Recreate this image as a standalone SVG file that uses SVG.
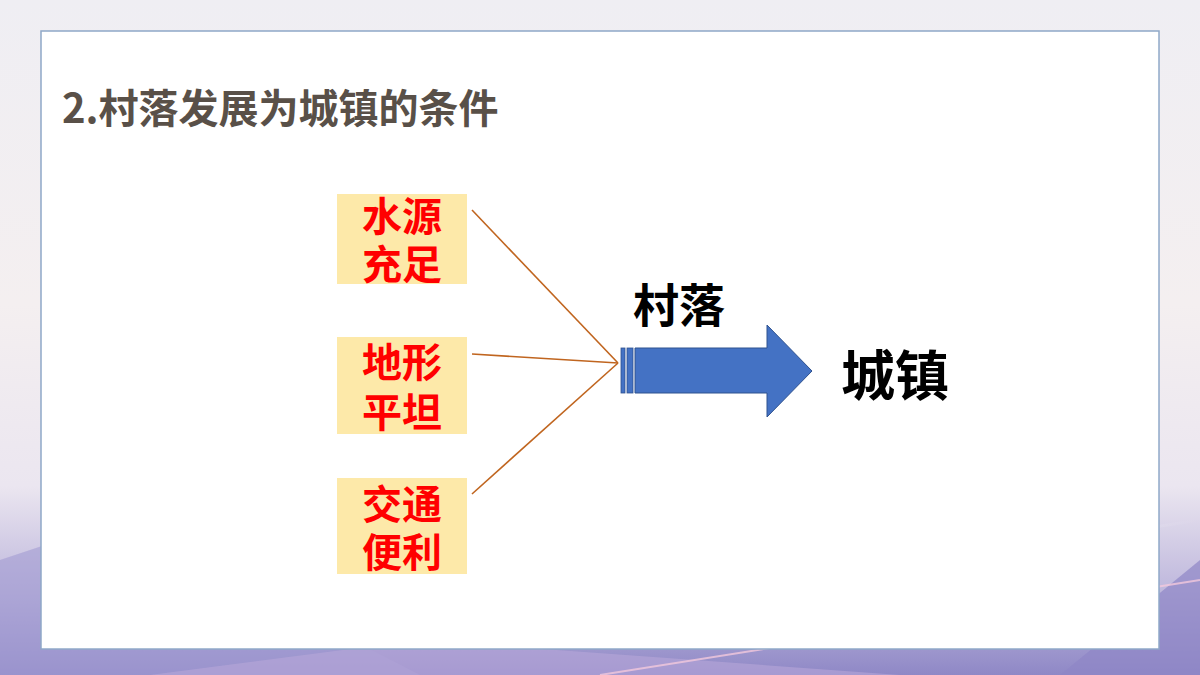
<svg xmlns="http://www.w3.org/2000/svg" width="1200" height="675" viewBox="0 0 1200 675">
<defs>
<linearGradient id="bg" x1="0" y1="0" x2="0" y2="1">
<stop offset="0" stop-color="#efeef3"/>
<stop offset="0.45" stop-color="#f4eff0"/>
<stop offset="0.72" stop-color="#ebe6f0"/>
<stop offset="0.88" stop-color="#bdb6dc"/>
<stop offset="1" stop-color="#8f88c6"/>
</linearGradient>
<linearGradient id="streak" x1="0" y1="0" x2="1" y2="0">
<stop offset="0" stop-color="#ffffff" stop-opacity="0"/>
<stop offset="0.5" stop-color="#f6d8e6" stop-opacity="0.9"/>
<stop offset="1" stop-color="#ffffff" stop-opacity="0"/>
</linearGradient>
<style>
.box{fill:#fde9a9;}
.lbl{font-family:"Noto Sans CJK SC","Noto Sans CJK JP",sans-serif;font-weight:700;font-size:40px;fill:#ff0000;text-anchor:middle;}
.con{stroke:#c0651f;stroke-width:1.6;fill:none;}
.big{font-family:"Noto Sans CJK SC","Noto Sans CJK JP",sans-serif;font-weight:700;fill:#000;}
</style>
</defs>
<rect width="1200" height="675" fill="url(#bg)"/>
<path d="M0 560 L120 520 L420 675 L0 675 Z" fill="#a29bd2" opacity="0.6"/>
<path d="M1060 675 L1200 560 L1200 675 Z" fill="#8e86c6" opacity="0.7"/>
<path d="M150 675 L420 640 L900 675 Z" fill="#b7a6d8" opacity="0.6"/>
<path d="M420 640 L1200 520" stroke="url(#streak)" stroke-width="3"/>
<path d="M600 675 L1200 580" stroke="#f3c9dd" stroke-width="2" opacity="0.8"/>
<rect x="41" y="31" width="1118" height="618" fill="#ffffff" stroke="#8fa8c8" stroke-width="1.5"/>
<text x="62" y="123" font-family="'Noto Sans CJK SC','Noto Sans CJK JP',sans-serif" font-weight="700" font-size="40" fill="#595048">2.村落发展为城镇的条件</text>
<g id="connectors">
<line class="con" x1="472" y1="210" x2="618" y2="363"/>
<line class="con" x1="472" y1="354" x2="618" y2="363"/>
<line class="con" x1="472" y1="494" x2="618" y2="363"/>
</g>
<g id="node-water">
<rect class="box" x="337" y="194" width="130" height="90"/>
<text class="lbl"><tspan x="402" y="231">水源</tspan><tspan x="402" y="279">充足</tspan></text>
</g>
<g id="node-terrain">
<rect class="box" x="337" y="337" width="130" height="97"/>
<text class="lbl"><tspan x="402" y="377">地形</tspan><tspan x="402" y="427">平坦</tspan></text>
</g>
<g id="node-traffic">
<rect class="box" x="337" y="478" width="130" height="96"/>
<text class="lbl"><tspan x="402" y="519">交通</tspan><tspan x="402" y="567">便利</tspan></text>
</g>
<g id="node-arrow">
<rect x="621" y="348" width="4" height="45" fill="#4472c4" stroke="#2f528f" stroke-width="0.8"/>
<rect x="627" y="348" width="6" height="45" fill="#4472c4" stroke="#2f528f" stroke-width="0.8"/>
<path d="M635 348 L767 348 L767 325 L812 371 L767 417 L767 393 L635 393 Z" fill="#4472c4" stroke="#2f528f" stroke-width="1"/>
<text class="big" x="633" y="322" font-size="46">村落</text>
</g>
<g id="node-town">
<text class="big" x="841" y="396" font-size="54">城镇</text>
</g>
</svg>
